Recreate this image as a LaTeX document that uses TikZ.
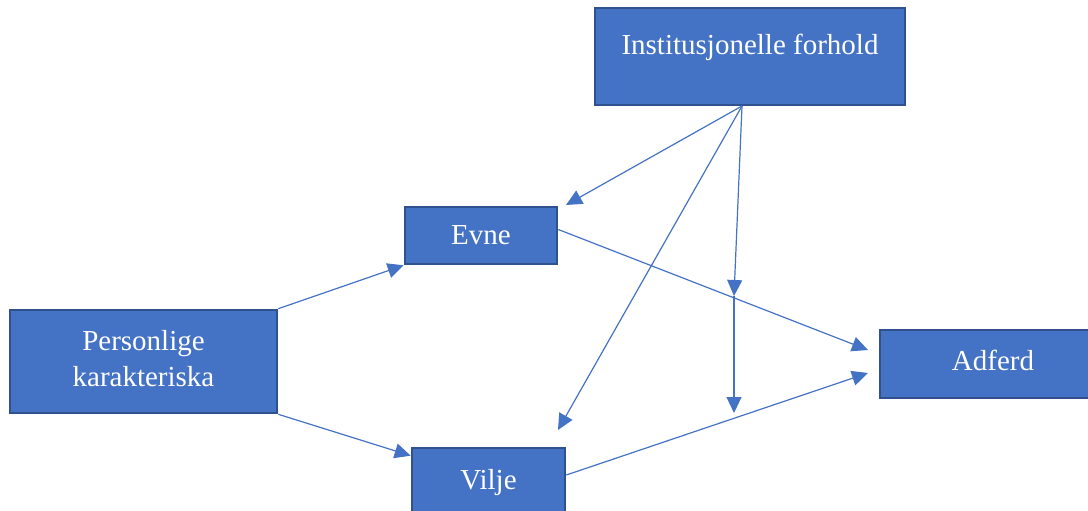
\documentclass[tikz,border=0pt]{standalone}
\usepackage{fontspec}
\setmainfont{Liberation Serif}
\usetikzlibrary{arrows.meta}
\definecolor{boxfill}{HTML}{4472C4}
\definecolor{boxline}{HTML}{2F528F}
\definecolor{arr}{HTML}{4472C4}
\tikzset{
  box/.style={draw=boxline, fill=boxfill, line width=2.6pt, text=white, inner sep=0pt,
    font=\fontsize{29}{36}\selectfont, align=center},
  conn/.style={draw=arr, line width=1.2pt, -{Triangle[length=16pt,width=15pt]}},
}
\begin{document}
\begin{tikzpicture}[x=1pt,y=-1pt]
\useasboundingbox (0,0) rectangle (1088,511);
\clip (0,0) rectangle (1088,511);
\node[box, minimum width=310pt, text height=47pt, text depth=50pt] (inst) at (750,56.5) {Institusjonelle forhold};
\node[box, minimum width=152pt, minimum height=57pt] (evne) at (481,235.5) {Evne};
\node[box, minimum width=267pt, minimum height=103pt] (pers) at (143.5,361.5) {Personlige\\karakteriska\rule[-7pt]{0pt}{0pt}};
\node[box, minimum width=153pt, text height=41pt, text depth=25pt] (vilje) at (488.5,481) {Vilje};
\node[box, minimum width=226pt, text height=40pt, text depth=28pt] (adf) at (993,364) {Adferd};
\coordinate (src) at (742,106);
\coordinate (mid) at (734,296);
\coordinate (low) at (734,413);
\coordinate (evtip) at (566,205);
\coordinate (vitip) at (558,430);
\coordinate (adtop) at (868,350);
\coordinate (adbot) at (868,373);
\draw[conn] (pers.north east) -- (evne.south west);
\draw[conn] (pers.south east) -- ([yshift=-9pt]vilje.north west);
\draw[conn] ([yshift=6pt]evne.east) -- (adtop);
\draw[conn] ([yshift=6pt]vilje.east) -- (adbot);
\draw[conn] (src) -- (evtip);
\draw[conn] (src) -- (vitip);
\draw[conn] (src) -- (mid);
\draw[conn] (mid) -- (low);
\end{tikzpicture}
\end{document}
